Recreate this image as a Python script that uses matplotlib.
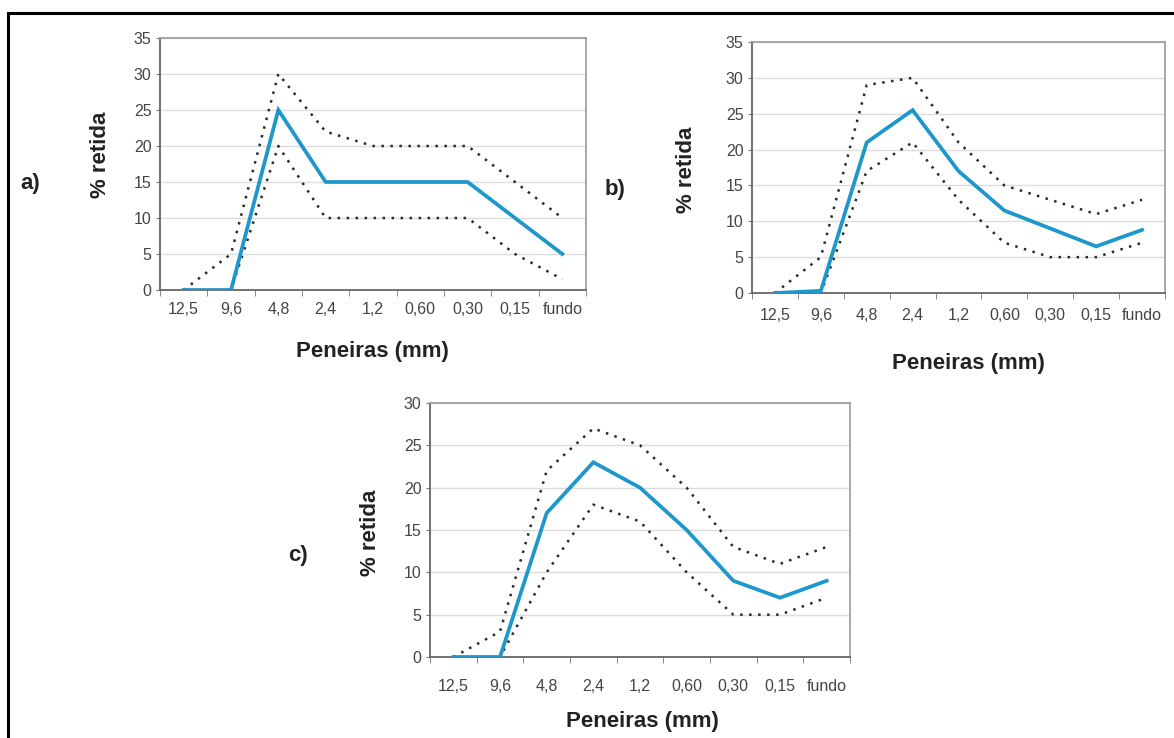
import matplotlib
matplotlib.use('Agg')
import matplotlib.pyplot as plt
from matplotlib.lines import Line2D
from matplotlib import font_manager

peneiras = ['12,5', '9,6', '4,8', '2,4', '1,2', '0,60', '0,30', '0,15', 'fundo']

# a)
a_media = [0, 0, 25, 15, 15, 15, 15, 10, 5]
a_sup = [0, 5, 30, 22, 20, 20, 20, 15, 10]
a_inf = [0, 0, 20, 10, 10, 10, 10, 5, 1.5]

# b)
b_media = [0, 0.3, 21, 25.5, 17, 11.5, 9, 6.5, 8.8]
b_sup = [0, 5, 29, 30, 21, 15, 13, 11, 13]
b_inf = [0, 0, 17, 21, 13, 7, 5, 5, 7]

# c)
c_media = [0, 0, 17, 23, 20, 15, 9, 7, 9]
c_sup = [0, 3, 22, 27, 25, 20, 13, 11, 13]
c_inf = [0, 0, 10, 18, 16, 10, 5, 5, 7]

names = {f.name for f in font_manager.fontManager.ttflist}
tick_font = ['Liberation Sans Narrow'] if 'Liberation Sans Narrow' in names else ['Liberation Sans']
plt.rcParams['font.family'] = ['Liberation Sans', 'DejaVu Sans']

W, H = 1174, 738
fig = plt.figure(figsize=(W / 100, H / 100), dpi=100)

BLUE = '#1e98cc'
DOT = '#2a2a2a'


def px_axes(left, right, top, bottom):
    return fig.add_axes([left / W, 1 - bottom / H, (right - left) / W, (bottom - top) / H])


def panel(ax, media, sup, inf, ymax, pad=9):
    x = list(range(len(peneiras)))
    for y in range(5, ymax + 1, 5):
        ax.axhline(y, color='#dcdcdc', lw=1.0, zorder=0)
    ax.plot(x, sup, color=DOT, lw=1.8, linestyle=(0, (1, 2.6)), zorder=2)
    ax.plot(x, inf, color=DOT, lw=1.8, linestyle=(0, (1, 2.6)), zorder=2)
    ax.plot(x, media, color=BLUE, lw=2.7, solid_joinstyle='miter', zorder=3)
    ax.set_xlim(-0.5, len(peneiras) - 0.5)
    ax.set_ylim(0, ymax)
    ax.set_yticks(range(0, ymax + 1, 5))
    ax.set_xticks(x)
    ax.set_xticklabels(peneiras)
    ax.set_xticks([i - 0.5 for i in range(len(peneiras) + 1)], minor=True)
    ax.tick_params(axis='x', which='major', length=0, pad=pad)
    ax.tick_params(axis='x', which='minor', length=4, color='#777777', direction='out')
    ax.tick_params(axis='y', length=3, color='#777777', pad=3)
    for lab in ax.get_xticklabels() + ax.get_yticklabels():
        lab.set_fontfamily(tick_font)
        lab.set_fontsize(11.5)
        lab.set_color('#444444')
    for s in ax.spines.values():
        s.set_color('#a0a0a0')
        s.set_linewidth(1.3)
    ax.spines['left'].set_color('#666666')
    ax.spines['bottom'].set_color('#666666')


ax_a = px_axes(160, 586, 38, 290)
panel(ax_a, a_media, a_sup, a_inf, 35)
ax_b = px_axes(752, 1165, 42, 293)
panel(ax_b, b_media, b_sup, b_inf, 35, pad=11)
ax_c = px_axes(430, 850, 403, 657)
panel(ax_c, c_media, c_sup, c_inf, 30, pad=16)

lab_kw = dict(fontsize=16, fontweight='bold', color='#222222')
for (lx, ly), (yx, yy), (xx, xy), tag in [
    ((20, 183), (100, 155), (372, 352), 'a)'),
    ((605, 190), (686, 170), (968, 363), 'b)'),
    ((288, 556), (370, 533), (642, 722), 'c)'),
]:
    fig.text(lx / W, 1 - ly / H, tag, ha='left', va='center', fontsize=16, fontweight='bold', color='#222222')
    fig.text(yx / W, 1 - yy / H, '% retida', rotation=90, ha='center', va='center', **lab_kw)
    fig.text(xx / W, 1 - xy / H, 'Peneiras (mm)', ha='center', va='center', **lab_kw)

# moldura (cortada à direita e embaixo)
fig.add_artist(Line2D([8 / W, 1.0], [1 - 13 / H, 1 - 13 / H], color='black', lw=2.2, transform=fig.transFigure))
fig.add_artist(Line2D([8 / W, 8 / W], [0.0, 1 - 13 / H], color='black', lw=2.2, transform=fig.transFigure))

fig.savefig('out.png', dpi=100)
